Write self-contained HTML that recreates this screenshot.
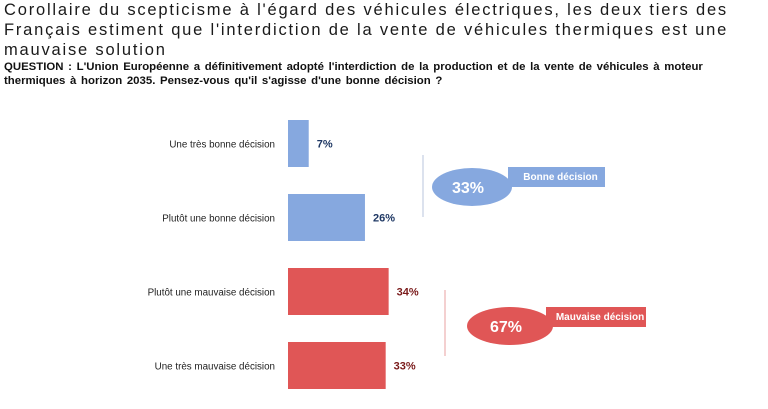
<!DOCTYPE html>
<html><head><meta charset="utf-8"><style>
body{margin:0;width:768px;height:409px;background:#fff;overflow:hidden;font-family:"Liberation Sans",sans-serif;}
#title{position:absolute;left:4px;top:0px;font-size:16.5px;line-height:20px;letter-spacing:1.8px;color:#1a1a1a;width:764px;}
#question{position:absolute;left:4px;top:60px;font-size:11.4px;line-height:14px;font-weight:bold;color:#111;width:716px;word-spacing:1.5px;}
svg{position:absolute;left:0;top:0;}
</style></head><body>
<div id="title">Corollaire du scepticisme à l'égard des véhicules électriques, les deux tiers des Français estiment que l'interdiction de la vente de véhicules thermiques est une mauvaise solution</div>
<div id="question">QUESTION : L'Union Européenne a définitivement adopté l'interdiction de la production et de la vente de véhicules à moteur<br>thermiques à horizon 2035. Pensez-vous qu'il s'agisse d'une bonne décision ?</div>
<svg id="chart" width="768" height="409"></svg>
<script>
const categories=["Une très bonne décision","Plutôt une bonne décision","Plutôt une mauvaise décision","Une très mauvaise décision"];
const values=[7,26,34,33];
const valueLabels=["7%","26%","34%","33%"];
const groupNames=["Bonne décision","Mauvaise décision"];
const groupTotals=["33%","67%"];
const svg=document.getElementById('chart');
const NS='http://www.w3.org/2000/svg';
const x0=288,scale=2.96,top0=120,step=74,bh=47;
const xs=v=>x0+v*scale;
const ys=i=>top0+i*step;
const fill=["#86a8df","#86a8df","#e05656","#e05656"];
const tcol=["#1f3864","#1f3864","#7a1a1a","#7a1a1a"];
function mk(t,a){const e=document.createElementNS(NS,t);for(const k in a)e.setAttribute(k,a[k]);svg.appendChild(e);return e;}
values.forEach((v,i)=>{
 const r=mk('rect',{x:x0,y:ys(i),width:xs(v)-x0,height:bh,fill:fill[i]});
 
 
 const l=mk('text',{x:275,y:ys(i)+bh/2+4,'text-anchor':'end','font-size':'9.8',fill:'#222'});
 l.textContent=categories[i];
 
 
 const t=mk('text',{x:xs(v)+8,y:ys(i)+bh/2+4,'font-size':'11','font-weight':'bold',fill:tcol[i]});
 t.textContent=valueLabels[i];
 
 
});
const callouts=[{lx:423,ly1:155,ly2:217,cx:472,cy:187,rx:40,ry:19,rx0:508,ry0:167,rw:97,c:"#86a8df",lc:"#b8c6dd"},
{lx:445,ly1:290,ly2:356,cx:510,cy:326,rx:43,ry:19,rx0:546,ry0:307,rw:100,c:"#e05656",lc:"#e8a0a0"}];
callouts.forEach((o,i)=>{
 const ln=mk('line',{x1:o.lx,x2:o.lx,y1:o.ly1,y2:o.ly2,stroke:o.lc,'stroke-width':1});
 
 
 const rc=mk('rect',{x:o.rx0,y:o.ry0,width:o.rw,height:20,fill:o.c});
 
 
 const el=mk('ellipse',{cx:o.cx,cy:o.cy,rx:o.rx,ry:o.ry,fill:o.c});
 
 
 const gt=mk('text',{x:o.cx-4,y:o.cy+6,'text-anchor':'middle','font-size':'16','font-weight':'bold',fill:'#fff'});
 gt.textContent=groupTotals[i];
 
 
 const gn=mk('text',{x:o.rx0+o.rw/2+4,y:o.ry0+13,'text-anchor':'middle','font-size':'10','font-weight':'bold',fill:'#fff'});
 gn.textContent=groupNames[i];
 
 
});
</script>
</body></html>
